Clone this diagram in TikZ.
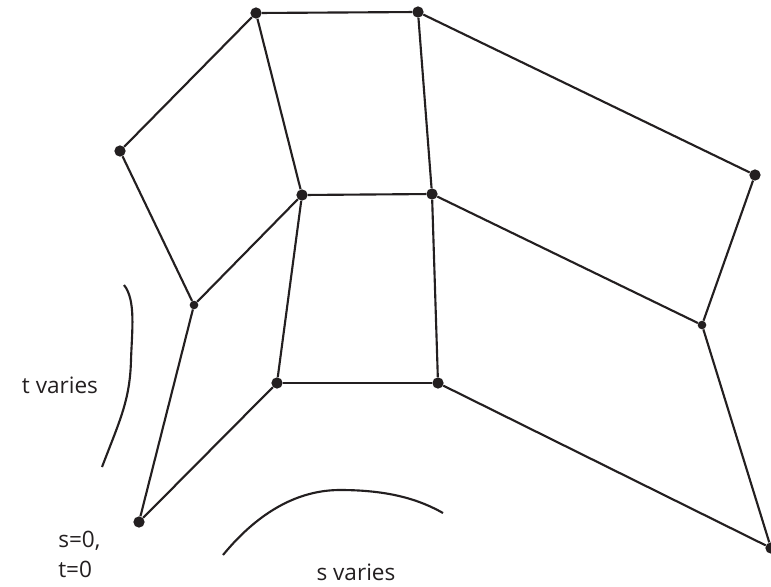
\documentclass[tikz,border=0pt]{standalone}
\usepackage{fontspec}
\setmainfont{Open Sans}
\usetikzlibrary{positioning}
\definecolor{Ink}{HTML}{231F20}

\begin{document}
\begin{tikzpicture}[x=0.02646cm, y=-0.02646cm,
  pt/.style={circle, fill=Ink, inner sep=0pt, minimum size=8.5pt},
  sm/.style={circle, fill=Ink, inner sep=0pt, minimum size=6.5pt},
  edge/.style={draw=Ink, line width=1.6pt},
  lbl/.style={font=\fontsize{17}{21}\selectfont, text=Ink, inner sep=0pt, align=left}]
  \useasboundingbox (0,0) rectangle (771,586);
  % grid points
  \node[pt] (a1) at (256,13) {};
  \node[pt] (a2) at (418,12) {};
  \node[pt] (c1) at (120,151) {};
  \node[pt] (b1) at (302,195) {};
  \node[pt] (b2) at (432,194) {};
  \node[pt] (a3) at (755,175) {};
  \node[sm] (c2) at (194,305) {};
  \node[sm] (b3) at (702,325) {};
  \node[pt] (d1) at (277,383) {};
  \node[pt] (d2) at (438,383) {};
  \node[pt] (o) at (139,522) {};
  \node[pt] (d3) at (771,548) {};
  % connectors
  \draw[edge] (a1) -- (a2);
  \draw[edge] (a1) -- (c1);
  \draw[edge] (a1) -- (b1);
  \draw[edge] (a2) -- (b2);
  \draw[edge] (a2) -- (a3);
  \draw[edge] (c1) -- (c2);
  \draw[edge] (b1) -- (b2);
  \draw[edge] (b1) -- (c2);
  \draw[edge] (b2) -- (b3);
  \draw[edge] (a3) -- (b3);
  \draw[edge] (b1) -- (d1);
  \draw[edge] (b2) -- (d2);
  \draw[edge] (d1) -- (d2);
  \draw[edge] (c2) -- (o);
  \draw[edge] (o) -- (d1);
  \draw[edge] (d2) -- (d3);
  \draw[edge] (b3) -- (d3);
  % direction marks
  \coordinate (t0) at (124,285);
  \coordinate (t1) at (102,467);
  \draw[edge] (t0) .. controls (136,300) and (132,330) .. (131,360)
    .. controls (130,400) and (120,420) .. (t1);
  \coordinate (s0) at (223,555);
  \coordinate (s1) at (443,513);
  \draw[edge] (s0) .. controls (260,510) and (300,490) .. (340,490)
    .. controls (390,490) and (420,500) .. (s1);
  % labels
  \node[lbl] (tv) at (60,385) {t varies};
  \node[lbl] (sv) at (356,572) {s varies};
  \node[lbl, anchor=base west] (s0l) at (58,547) {s=0,};
  \node[lbl, anchor=base west] (t0l) at (58,577) {t=0};
\end{tikzpicture}
\end{document}
